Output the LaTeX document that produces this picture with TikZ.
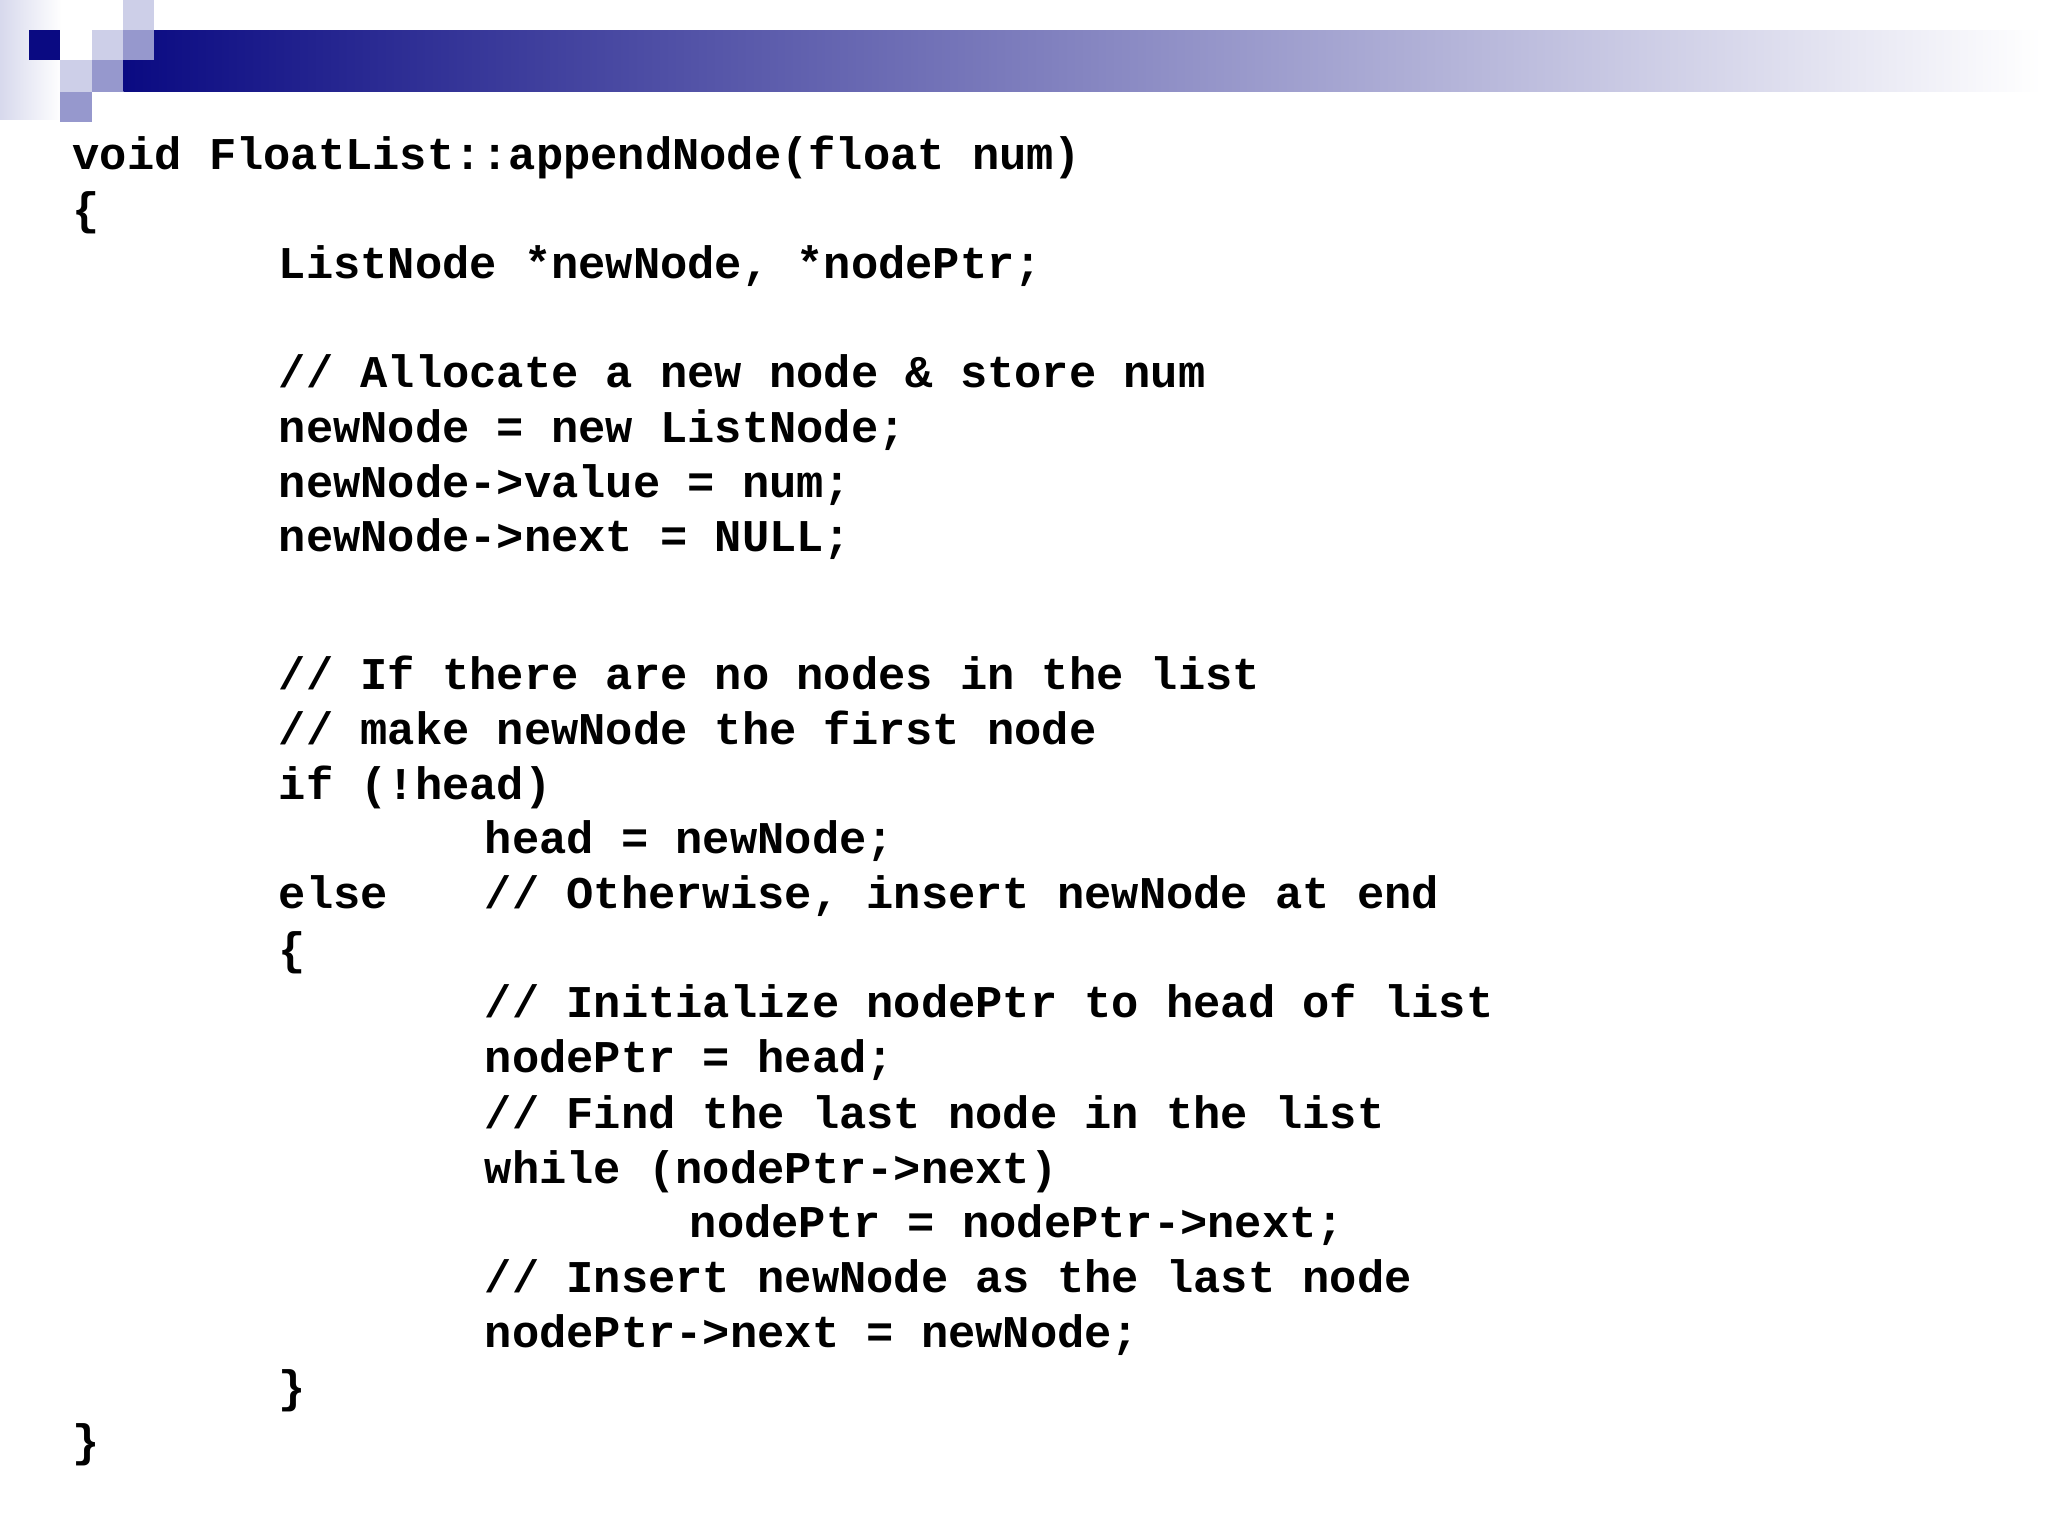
\documentclass[tikz,border=0pt]{standalone}
\usepackage{fontspec}
\setmonofont{Liberation Mono}
\begin{document}
\begin{tikzpicture}[x=0.5pt,y=-0.5pt,
  code/.style={anchor=mid west,inner sep=0pt,font=\fontsize{17.3pt}{20pt}\ttfamily\bfseries}]
\definecolor{navy}{RGB}{10,10,130}
\definecolor{lav}{RGB}{205,207,232}
\definecolor{mid}{RGB}{150,152,205}
\useasboundingbox[fill=white] (0,0) rectangle (1560,1170);
\shade[left color=lav!80,right color=white] (0,0) rectangle (47,91);
\shade[left color=navy,right color=white] (94,23) rectangle (1555,70);
\fill[white] (94,23) rectangle (117,46);
\fill[navy] (22,23) rectangle (46,46);
\fill[white] (46,23) rectangle (70,46);
\fill[lav] (70,23) rectangle (94,46);
\fill[mid] (94,23) rectangle (117,46);
\fill[lav] (94,0) rectangle (117,23);
\fill[lav] (46,46) rectangle (70,70);
\fill[mid] (70,46) rectangle (94,70);
\fill[mid] (46,70) rectangle (70,93);
\node[code] (l1) at (55,125) {void FloatList::appendNode(float num)};
\node[code] (l2) at (55,167) {\{};
\node[code] (l3) at (212,208) {ListNode *newNode, *nodePtr;};
\node[code] (l4) at (212,291) {// Allocate a new node \& store num};
\node[code] (l5) at (212,333) {newNode = new ListNode;};
\node[code] (l6) at (212,375) {newNode->value = num;};
\node[code] (l7) at (212,416) {newNode->next = NULL;};
\node[code] (l8) at (212,521) {// If there are no nodes in the list};
\node[code] (l9) at (212,563) {// make newNode the first node};
\node[code] (l10) at (212,605) {if (!head)};
\node[code] (l11) at (369,646) {head = newNode;};
\node[code] (l12) at (212,688) {else};
\node[code] (l12b) at (369,688) {// Otherwise, insert newNode at end};
\node[code] (l13) at (212,730) {\{};
\node[code] (l14) at (369,771) {// Initialize nodePtr to head of list};
\node[code] (l15) at (369,813) {nodePtr = head;};
\node[code] (l16) at (369,855) {// Find the last node in the list};
\node[code] (l17) at (369,897) {while (nodePtr->next)};
\node[code] (l18) at (525,938) {nodePtr = nodePtr->next;};
\node[code] (l19) at (369,980) {// Insert newNode as the last node};
\node[code] (l20) at (369,1022) {nodePtr->next = newNode;};
\node[code] (l21) at (212,1064) {\}};
\node[code] (l22) at (55,1105) {\}};
\end{tikzpicture}
\end{document}
